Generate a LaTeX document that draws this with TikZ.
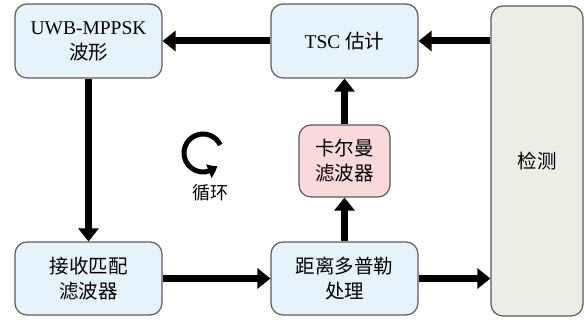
\documentclass[tikz,border=0pt]{standalone}
\usepackage{fontspec}
\setmainfont{Liberation Serif}
\newfontfamily\cjk{Noto Sans CJK SC}
\usetikzlibrary{arrows.meta,bending,calc}
\definecolor{boxblue}{HTML}{E6F3FA}
\definecolor{boxpink}{HTML}{F9D9D9}
\definecolor{boxgray}{HTML}{ECEEE5}
\definecolor{edgegray}{HTML}{5A5A5A}
\tikzset{
  blk/.style={draw=edgegray, line width=1.2pt, rounded corners=12pt, align=center,
    font=\fontsize{19.5}{25}\selectfont, inner sep=0pt},
  flow/.style={line width=7pt, -{Triangle[length=13pt,width=20pt]}},
}
\begin{document}
\begin{tikzpicture}[x=1pt,y=1pt]
\useasboundingbox (0,0) rectangle (584,320);
\node[blk, fill=boxblue, minimum width=147pt, minimum height=74pt] (uwb) at (88.5,279) {UWB-MPPSK\\{\cjk 波形}};
\node[blk, fill=boxblue, minimum width=147pt, minimum height=74pt] (tsc) at (344.5,279) {TSC {\cjk 估计}};
\node[blk, fill=boxgray, minimum width=92pt, minimum height=310pt] (det) at (537,159) {\cjk 检测};
\node[blk, fill=boxpink, minimum width=91pt, minimum height=72pt] (kal) at (344.5,159) {\cjk 卡尔曼\\\cjk 滤波器};
\node[blk, fill=boxblue, minimum width=147pt, minimum height=73pt] (rcv) at (88.5,41.5) {\cjk 接收匹配\\\cjk 滤波器};
\node[blk, fill=boxblue, minimum width=147pt, minimum height=73pt] (rd) at (344.5,41.5) {\cjk 距离多普勒\\\cjk 处理};
\draw[flow] (tsc.west) -- (uwb.east);
\draw[flow] (tsc.east -| det.west) -- (tsc.east);
\draw[flow] (kal.north) -- (tsc.south);
\draw[flow] (rd.north) -- (kal.south);
\draw[flow] (uwb.south) -- (rcv.north);
\draw[flow] (rcv.east) -- (rd.west);
\draw[flow] (rd.east) -- (rd.east -| det.west);
\coordinate (loopc) at (203,167);
\draw[line width=5pt, -{Triangle[length=10pt,width=14pt,bend]}] ($(loopc)+(25:19)$) arc[start angle=25, end angle=318, radius=19];
\node[font=\cjk\fontsize{18}{20}\selectfont, inner sep=0pt] (looplbl) at (210,127) {循环};
\end{tikzpicture}
\end{document}
